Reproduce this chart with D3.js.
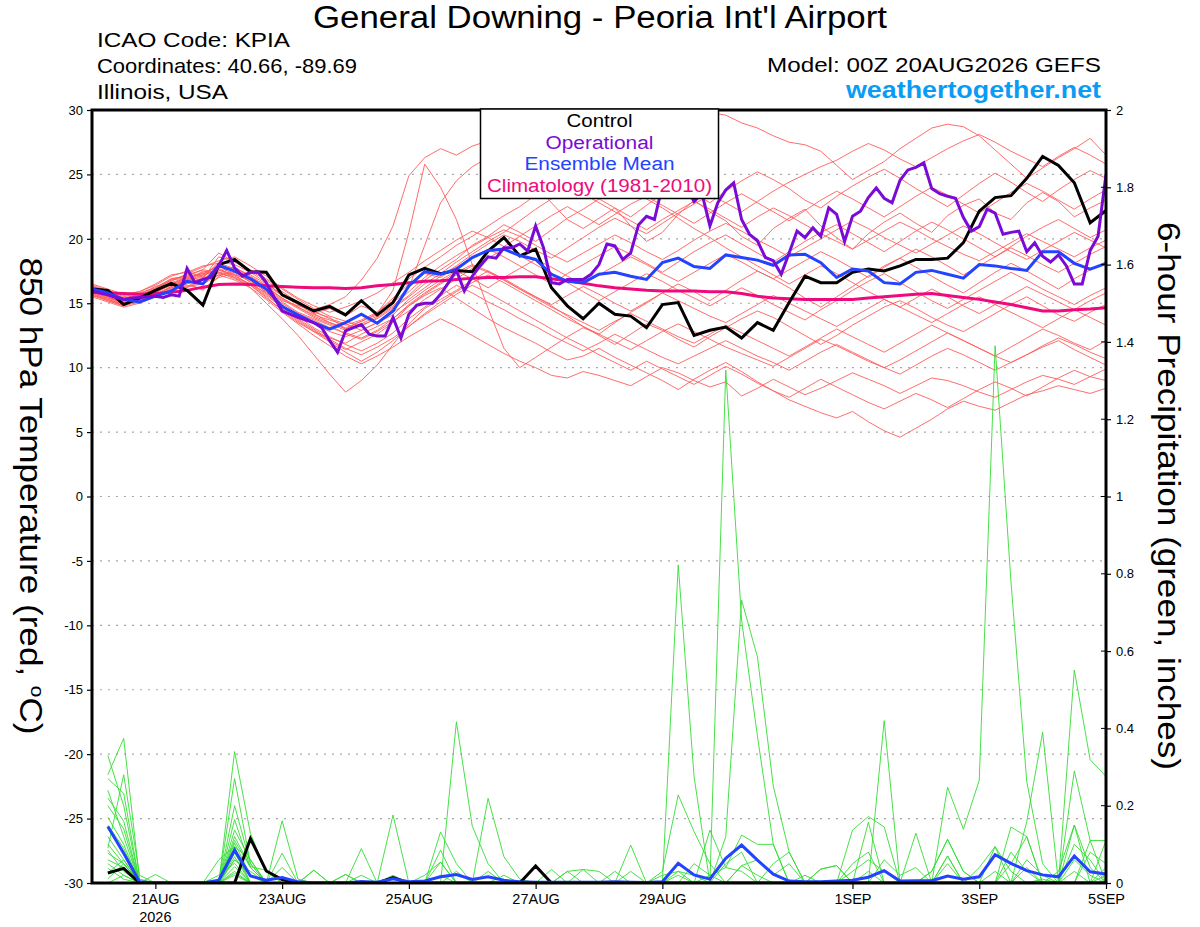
<!DOCTYPE html>
<html><head><meta charset="utf-8">
<script src="https://cdn.jsdelivr.net/npm/d3@7"></script>
<style>
body{margin:0;background:#fff}
svg{display:block}
text{font-family:"Liberation Sans",Arial,Helvetica,sans-serif}
</style>
</head><body>
<svg id="chart" width="1200" height="927"></svg>
<script>
// ---------------- DATA ----------------
const tempTicks = [-30,-25,-20,-15,-10,-5,0,5,10,15,20,25,30];
const precipTicks = [0,0.2,0.4,0.6,0.8,1,1.2,1.4,1.6,1.8,2];
const dateTickHours = [24,72,120,168,216,288,336,384];
const dateTickLabels = ["21AUG","23AUG","25AUG","27AUG","29AUG","1SEP","3SEP","5SEP"];
const yearLabel = "2026";
const legendLabels = ["Control","Operational","Ensemble Mean","Climatology (1981-2010)"];

// 850 hPa temperature, 6-hourly from 00Z 20AUG (65 values)
const controlTemp = [16.1,16.0,14.9,15.4,16.0,16.55,16.0,14.85,18.0,18.4,17.45,
 17.4,15.65,15.05,14.4,14.75,14.1,15.2,14.1,15.05,17.2,
 17.7,17.3,17.55,17.45,19.05,20.1,18.67,19.2,16.2,14.8,
 13.8,15.0,14.15,14.0,13.1,14.9,15.05,12.5,12.9,13.15,
 12.3,13.5,12.9,15.05,17.1,16.6,16.6,17.4,17.65,17.5,
 17.9,18.4,18.4,18.5,19.7,22.15,23.2,23.35,24.7,26.4,25.7,24.35,21.25,22.2];
const meanTemp = [16.1,15.8,15.3,15.1,15.55,15.95,16.7,16.5,17.95,17.5,16.9,
 16.1,14.75,14.1,13.5,13.0,13.5,14.15,13.45,14.4,16.35,
 17.45,17.25,17.65,18.55,19.1,19.2,18.7,18.4,17.25,16.7,
 16.6,17.25,17.4,17.1,16.85,18.15,18.5,17.85,17.7,18.75,
 18.55,18.35,17.95,18.75,18.8,18.15,17.0,17.65,17.5,16.6,
 16.5,17.4,17.55,17.25,16.95,18.0,17.9,17.7,17.55,19.0,19.0,18.1,17.65,18.1];
const climoTemp = [15.85,15.8,15.75,15.7,15.75,15.85,16.0,16.25,16.45,16.5,16.45,
 16.35,16.3,16.25,16.2,16.2,16.15,16.2,16.35,16.45,16.6,
 16.7,16.75,16.85,16.95,17.0,17.0,17.05,17.05,16.9,16.75,
 16.55,16.35,16.2,16.1,16.0,15.95,15.95,15.95,15.9,15.9,
 15.75,15.55,15.4,15.35,15.3,15.3,15.3,15.3,15.4,15.5,
 15.6,15.7,15.75,15.6,15.45,15.3,15.1,14.9,14.65,14.4,14.4,14.5,14.55,14.65];
// operational run, 3-hourly (129 values)
const operationalTemp = [15.96,15.8,15.65,15.45,15.3,15.4,15.45,15.5,15.55,15.45,15.65,15.55,
 17.7,16.6,16.85,17.0,17.9,19.1,17.75,17.1,17.4,17.4,16.6,15.45,
 14.4,14.15,13.9,13.7,13.5,13.1,12.1,11.2,12.85,13.1,13.35,12.6,
 12.45,12.45,13.9,12.3,14.15,14.85,15.0,15.0,15.7,16.6,17.55,15.95,
 17.1,17.9,18.6,18.5,19.3,19.3,19.6,19.05,21.0,19.3,16.6,16.5,
 16.85,16.85,16.85,17.25,18.0,19.6,19.45,18.4,18.9,21.1,21.75,21.5,
 24.1,25.3,25.5,24.0,22.9,23.5,21.0,22.8,23.8,24.35,21.5,20.35,
 19.85,18.55,18.3,17.25,18.9,20.6,20.1,20.85,20.2,22.4,21.9,19.8,
 21.75,22.15,23.2,23.95,23.15,22.8,24.55,25.35,25.55,25.9,23.9,23.5,
 23.3,23.15,21.65,20.6,20.95,22.3,22.0,20.35,20.5,20.6,19.0,19.7,
 18.65,18.2,18.75,17.9,16.5,16.5,19.1,20.2,25.0];
// ensemble members (65 values each)
const memberTemps = [
 [16.2,15.8,15.2,15.6,16.1,16.8,17.0,17.3,17.9,17.2,16.8, 16.0,15.2,14.8,14.5,14.9,15.5,16.8,18.5,21.0,24.9, 26.3,27.0,26.5,27.2,27.6,26.8,25.5,24.2,22.8,21.5, 20.8,21.6,22.4,21.0,19.8,20.5,21.9,23.0,22.1,21.4, 20.2,19.5,20.8,21.6,22.3,21.0,20.1,19.2,20.4,21.3, 22.0,21.2,20.5,21.8,22.6,23.1,22.0,21.5,22.8,23.6,22.9,21.7,22.4,23.0],
 [15.9,15.5,15.0,15.4,15.9,16.4,16.9,16.6,17.5,17.8,17.0, 16.4,15.6,14.9,14.2,14.6,14.0,14.8,14.3,15.2,16.9, 17.8,18.6,19.5,20.2,21.0,21.8,22.5,23.4,24.0,24.6, 25.3,26.1,25.5,24.8,25.9,27.0,28.1,29.1,29.8,29.6, 29.0,28.6,28.0,27.5,27.3,26.8,25.7,24.6,25.3,26.0, 27.0,27.8,28.6,28.9,28.7,28.0,26.9,25.8,24.7,25.5,26.3,27.0,27.8,26.5],
 [15.6,15.2,14.8,15.3,15.7,16.2,16.6,16.0,17.1,17.6,16.9, 15.8,14.6,13.7,12.9,12.1,11.4,12.0,12.6,13.5,14.8, 15.6,16.2,15.4,14.6,13.8,13.1,12.5,11.9,11.2,10.6, 10.9,11.5,10.8,10.2,9.6,9.0,8.3,9.1,9.8,10.4, 9.7,8.9,8.2,7.5,7.0,6.5,6.1,6.6,5.8,5.1, 4.6,5.3,6.0,6.8,7.4,7.0,6.7,7.3,7.9,8.2,8.6,8.3,8.0,8.4],
 [16.0,15.5,15.0,15.2,15.8,16.5,17.0,17.2,17.6,17.0,16.2, 15.0,13.8,12.5,11.0,9.5,8.1,9.0,10.2,11.8,13.4, 14.6,15.3,16.0,16.8,17.5,16.9,16.2,15.5,14.8,14.0, 13.2,12.5,11.8,12.6,13.4,12.9,12.2,11.6,12.4,13.1, 13.8,14.4,13.9,13.2,12.5,11.8,12.5,13.3,14.0,14.7, 15.2,14.6,13.9,13.3,12.8,13.5,14.2,14.9,15.5,14.8,14.1,13.6,14.3,14.9],
 [16.3,16.0,15.6,15.9,16.4,17.1,17.5,17.0,18.2,18.0,17.4, 16.6,15.6,15.0,14.3,13.9,13.0,13.6,14.2,16.0,20.5, 25.8,24.0,21.5,18.0,14.6,11.5,10.0,10.8,11.6,12.4, 13.1,12.6,13.5,14.3,15.0,15.8,16.5,15.9,15.2,16.0, 16.8,17.5,16.9,16.2,15.4,14.7,15.5,16.3,17.1,17.9, 18.5,17.8,17.1,16.4,15.8,16.6,17.4,18.1,17.5,16.8,16.1,16.9,17.6,18.2],
 [15.7,15.4,15.1,15.5,16.0,16.6,16.2,16.9,18.6,18.3,17.6, 16.9,16.1,15.3,14.6,14.0,13.6,13.2,13.9,14.7,15.6, 16.8,17.6,18.4,19.5,20.2,21.1,20.5,19.8,20.7,21.6, 22.3,23.1,22.4,21.7,22.6,23.5,24.2,23.6,22.8,23.7, 24.5,25.2,24.6,23.9,23.0,22.4,23.3,24.1,24.8,25.4, 24.7,23.9,23.2,22.5,23.4,24.3,25.1,24.4,23.6,22.9,23.8,24.6,25.3,24.7],
 [16.1,15.7,15.3,15.1,15.6,16.3,16.8,17.5,17.3,17.8,17.1, 16.3,15.4,14.7,14.1,13.7,13.3,13.7,14.3,15.4,16.5, 17.3,17.0,17.8,18.5,19.2,18.6,17.9,17.2,16.5,17.3, 18.0,18.7,19.4,18.8,18.1,17.4,18.2,19.0,19.7,20.3, 19.6,18.9,18.2,19.0,19.8,20.5,21.1,20.4,19.7,19.0, 19.8,20.6,21.3,20.7,20.0,19.3,18.6,19.4,20.2,20.9,21.5,20.8,20.1,20.7],
 [15.8,15.3,14.9,15.4,15.9,16.4,16.6,16.8,17.4,16.9,16.4, 15.5,14.4,13.5,12.8,12.3,11.9,12.6,13.2,13.8,14.9, 15.8,16.6,17.4,18.0,17.5,16.8,16.1,15.4,14.7,14.1, 13.5,12.9,13.6,14.2,13.6,13.0,12.4,11.9,12.6,13.3, 12.7,12.1,11.5,10.9,11.6,12.3,13.0,12.4,11.8,11.2, 11.9,12.6,13.3,12.7,12.1,11.5,10.9,11.6,12.3,13.0,12.5,11.9,11.4,12.1],
 [16.4,16.0,15.5,15.8,16.2,16.9,17.1,17.6,18.9,18.2,17.5, 16.8,15.9,15.1,14.4,13.8,13.4,12.9,13.5,14.1,15.3, 16.2,17.1,17.9,18.8,19.6,20.3,19.8,19.1,18.5,19.3, 20.1,20.9,21.6,21.0,20.4,21.2,22.0,22.7,23.4,22.8, 22.1,22.9,23.7,24.4,25.0,25.6,26.1,26.8,27.4,26.9, 26.2,25.6,26.3,27.0,27.6,28.1,27.5,26.8,26.2,25.6,26.4,27.1,26.5,25.8],
 [16.0,15.6,15.1,15.0,15.5,16.2,16.5,17.0,17.2,17.4,16.8, 16.0,15.1,14.3,13.8,13.3,12.6,12.2,12.8,13.6,14.4, 15.3,16.1,16.9,17.7,18.5,19.2,18.7,18.0,17.3,16.6, 15.9,15.2,15.9,16.6,17.3,16.7,16.0,15.4,14.8,15.5, 16.2,15.6,14.9,14.3,13.7,14.5,15.2,16.0,16.7,17.3, 16.6,15.9,15.2,14.6,15.3,16.0,16.7,17.4,16.8,16.1,15.5,14.9,15.6,16.2],
 [15.5,15.1,14.7,15.0,15.6,16.1,16.4,16.1,17.0,17.3,16.7, 15.9,14.9,14.0,13.1,12.4,11.8,11.3,11.9,12.7,13.8, 14.7,15.6,16.4,15.8,15.1,14.5,13.8,13.2,12.5,11.9, 11.3,11.9,12.6,12.0,11.4,10.8,10.3,10.9,11.5,12.1, 11.5,10.9,10.4,9.8,10.5,11.2,11.8,11.2,10.6,10.0, 9.5,10.2,10.9,11.5,11.0,10.4,9.8,10.4,11.0,11.6,12.1,11.4,10.8,10.2],
 [16.2,15.9,15.4,15.7,16.3,16.7,17.3,17.8,18.3,18.6,17.9, 17.1,16.2,15.4,14.8,14.3,14.7,15.2,15.8,16.6,17.4, 18.3,19.1,19.9,20.6,20.1,19.4,20.2,21.0,21.8,22.5, 21.8,21.1,21.9,22.7,23.3,22.6,21.9,21.2,22.0,22.8, 23.5,22.8,22.1,21.4,22.2,23.0,23.7,23.1,22.4,21.7, 22.5,23.3,24.0,23.4,22.7,22.0,22.8,23.6,24.3,23.7,23.0,22.3,23.1,23.8],
 [15.9,15.4,14.9,15.2,15.7,16.3,16.7,17.1,17.7,17.1,16.5, 15.6,14.7,13.8,13.0,12.2,11.5,11.0,11.6,12.3,13.2, 14.1,14.9,15.7,16.4,15.8,15.1,14.4,13.7,13.0,12.3, 11.7,11.0,10.4,9.8,10.5,9.9,9.3,8.7,9.4,10.1, 9.5,8.8,8.2,7.7,8.4,9.1,8.5,7.9,7.3,6.8, 7.4,8.0,7.5,6.9,7.6,8.3,8.9,8.4,7.8,8.5,9.2,9.8,9.3,9.0],
 [16.5,16.1,15.7,15.9,16.5,17.2,17.4,17.9,18.1,17.7,17.2, 16.5,15.7,14.9,14.2,13.5,13.0,13.4,14.0,14.8,15.9, 17.0,17.9,18.7,19.4,20.1,20.7,20.2,19.5,18.8,18.2, 18.9,19.6,20.3,19.7,19.0,18.4,19.1,19.9,20.6,21.2, 20.6,19.9,19.3,18.6,19.3,20.0,20.7,21.4,20.8,20.1, 19.5,18.9,19.6,20.3,21.0,20.4,19.7,19.0,18.4,19.1,19.8,20.5,19.9,19.3],
 [15.6,15.3,14.8,15.3,15.8,16.5,16.9,17.4,17.8,17.5,16.9, 16.1,15.3,14.6,13.9,13.4,12.9,13.3,13.8,14.6,15.5, 16.5,17.3,18.2,19.0,19.8,20.5,21.4,22.3,23.1,23.9, 24.6,25.2,24.5,23.8,23.1,22.4,21.6,20.8,20.1,19.3, 18.6,17.9,17.2,16.5,17.2,17.9,17.3,16.6,15.9,15.3, 14.7,15.4,16.1,15.5,14.8,14.2,14.9,15.6,16.3,15.7,15.1,14.5,15.2,15.8],
 [16.1,15.8,15.3,15.5,16.0,16.6,17.0,16.8,17.9,17.5,16.6, 15.7,14.8,14.0,13.4,12.8,12.4,12.9,13.5,14.3,15.1, 16.0,16.8,17.5,16.9,16.2,17.0,17.7,18.4,17.8,17.1, 16.5,17.2,17.9,18.6,18.0,17.3,16.7,17.4,18.1,18.8, 18.2,17.5,16.9,17.6,18.3,19.0,18.4,17.7,17.0,17.8, 18.5,19.2,18.6,17.9,17.2,17.9,18.6,19.3,18.7,18.0,17.4,18.1,18.8,19.4],
 [15.7,15.2,14.8,15.1,15.6,16.0,16.3,16.5,17.2,16.8,16.2, 15.3,14.3,13.4,12.5,11.7,10.9,10.3,10.9,11.6,12.4, 13.1,13.8,13.2,12.5,11.8,11.1,10.5,10.0,9.4,9.2, 9.7,9.4,9.0,8.6,9.3,10.0,9.6,9.0,8.5,8.9, 7.8,8.4,9.1,8.5,7.9,8.4,9.0,9.6,9.1,8.6, 8.0,8.6,9.2,9.0,8.6,8.1,7.7,8.3,8.9,9.4,9.1,8.7,9.3,9.9],
 [16.3,15.9,15.4,15.6,16.1,16.8,17.2,17.6,17.4,17.0,16.5, 15.8,15.0,14.2,13.7,13.1,12.7,12.3,12.9,13.8,14.8, 15.7,16.5,17.2,17.9,17.4,16.8,16.1,15.5,14.9,15.6, 16.3,15.7,15.0,14.4,15.1,15.8,15.2,14.6,14.0,13.5, 14.2,14.9,15.6,15.0,14.4,13.8,13.2,13.9,14.6,15.3, 14.7,14.1,13.5,14.2,14.9,15.5,14.9,14.3,13.7,13.1,13.8,14.5,13.9,13.3],
 [15.8,15.5,15.0,15.4,15.9,16.4,16.8,17.2,18.0,17.6,17.0, 16.2,15.4,14.7,14.0,13.5,13.1,13.6,14.1,15.0,16.2, 19.5,22.8,24.5,25.6,26.3,27.1,26.4,25.7,24.9,24.2, 23.5,22.8,22.1,21.4,20.7,21.5,22.2,22.9,22.3,21.6, 20.9,21.7,22.4,21.8,21.1,20.4,19.8,19.2,19.9,20.6, 21.3,20.7,20.0,19.4,18.8,18.3,19.0,19.7,20.4,19.8,19.2,18.6,19.3,19.9],
 [16.0,15.6,15.2,15.6,16.2,16.9,17.1,17.3,17.6,17.2,16.4, 15.4,14.5,13.6,12.8,12.0,11.2,10.5,11.2,12.1,13.2, 14.2,15.1,15.9,16.6,17.2,16.6,15.9,15.2,14.5,13.8, 13.2,12.6,12.0,11.4,12.1,12.8,13.4,12.8,12.2,11.6, 11.1,10.6,10.1,10.8,11.5,12.2,11.7,11.1,10.5,10.0, 10.6,11.3,12.0,12.7,12.1,11.5,10.9,10.4,11.0,11.7,12.3,11.8,11.2,10.7]
];

// 6-hour precipitation (inches), periods ending 06Z 20AUG ... 00Z 5SEP (64 values)
const controlPrecip = [.026,.038,0,0,0,0,0,0, 0,.115,.031,.009,0,0,0,0, 0,0,.014,0,0,0,0,0, 0,0,0,.044,0,0,0,0,
 0,0,0,0,0,0,0,0, 0,0,0,0,0,0,0,0, 0,0,0,0,0,0,0,0, 0,0,0,0,0,0,0,0];
const meanPrecip = [.146,.077,.003,0,0,0,0,.007, .085,.018,.007,.014,.003,0,0,0, .004,.002,.011,.003,.005,.016,.022,.009, .016,.007,.003,.002,.002,.002,.002,.002,
 .003,.002,.001,.003,.051,.021,.010,.064, .098,.059,.023,.005,.003,.003,.005,.007, .015,.032,.005,.006,.006,.018,.010,.016, .073,.051,.032,.021,.016,.070,.029,.023];
const memberPrecips = [
 [.33,.20,0,0,0,0,0,0, .27,.05,0,0,0,0,0,0, 0,0,0,0,0,0,.417,.147, .05,0,0,0,0,0,0,0, 0,0,0,0,0,0,0,1.327, .68,.38,.10,0,0,0,0,0, 0,0,0,0,0,0,0,0, 0,0,0,0,0,.551,.319,.276],
 [.28,.374,.01,0,0,0,0,0, .34,.128,.03,0,0,0,0,0, 0,0,0,0,0,0,0,0, .219,.068,.01,0,0,0,0,0, 0,0,0,0,.823,.275,0,0, 0,0,0,0,0,0,0,0, 0,0,0,0,0,.248,.139,.266, 1.39,.78,.262,.05,0,0,.11,.11],
 [.27,.232,0,0,0,0,0,0, .164,.04,0,.161,.01,0,0,0, 0,0,0,0,0,.132,.05,0, 0,0,0,0,0,0,0,0, 0,0,0,0,0,0,0,.12, .732,.585,.251,.08,0,0,0,0, 0,.42,0,0,0,0,0,0, 0,0,.159,.39,0,0,0,0],
 [.20,.14,0,0,0,0,0,0, .137,.06,0,.077,0,0,0,0, 0,0,.176,0,0,0,0,0, 0,0,0,0,0,0,0,0, 0,0,0,.03,.228,.133,.05,0, 0,0,0,0,0,0,0,.137, .172,.145,0,0,0,0,0,0, 0,0,0,0,0,.29,.11,0],
 [.17,.10,0,0,0,0,0,0, .12,.042,.033,0,0,0,0,0, .089,0,0,0,0,.085,0,0, 0,0,0,0,0,0,0,0, 0,.098,0,0,0,0,.137,.04, .124,.10,.10,0,0,0,0,0, .157,0,0,.129,0,0,0,0, 0,.145,.12,0,0,.15,0,.11],
 [.14,.08,0,0,0,0,0,0, .103,.02,0,.04,0,.033,0,0, 0,0,.02,0,0,.054,0,0, 0,0,0,0,.035,0,0,0, .03,0,0,0,0,0,0,0, .045,.06,.02,.05,0,0,0,0, 0,0,0,0,.03,.113,.03,0, .094,0,0,0,0,0,0,0],
 [.12,.06,0,0,0,0,0,0, .094,0,0,0,0,0,0,.022, 0,0,0,0,0,0,0,0, 0,0,0,0,0,.03,0,0, 0,0,0,0,0,0,0,0, 0,0,0,0,0,.036,.045,0, 0,0,0,0,0,.07,0,0, 0,0,0,0,0,0,0,0],
 [.10,.05,0,.022,0,0,0,0, .077,.02,0,0,0,0,0,0, 0,0,0,0,0,0,0,0, 0,0,0,0,0,0,.035,.03, 0,0,0,0,0,0,0,0, 0,0,0,0,0,0,0,0, 0,0,0,0,0,0,0,0, 0,0,0,0,0,0,0,0],
 [.085,.03,0,0,0,0,0,0, .068,0,0,0,0,.033,0,0, 0,0,0,0,0,0,0,0, 0,0,0,0,0,0,0,0, 0,0,0,0,0,0,0,0, 0,0,0,0,0,0,0,.03, .06,.03,0,0,0,0,0,0, 0,0,.06,.02,0,.10,.06,0],
 [.077,.05,0,0,0,0,0,0, .06,.02,0,0,0,0,0,.022, 0,0,0,0,0,0,0,0, 0,0,0,0,0,0,0,0, 0,0,0,0,0,.05,.02,0, 0,0,0,0,0,0,0,0, 0,0,0,0,0,.07,0,0, 0,.05,.12,0,0,0,0,.04],
 [.05,.02,0,0,0,0,0,.02, .051,0,0,0,0,0,0,0, 0,0,0,0,.02,.054,0,0, 0,0,0,0,0,.03,.035,0, 0,0,0,0,0,0,0,0, 0,0,.05,.08,0,0,0,0, 0,0,0,0,0,0,0,.04, .094,.03,0,0,0,0,0,0],
 [.038,.01,0,0,0,0,0,0, .042,0,0,0,0,0,0,0, 0,0,0,0,0,0,0,0, .03,0,0,0,0,0,0,0, 0,0,0,0,.02,0,0,0, .045,.02,0,0,0,0,0,0, 0,0,0,0,0,0,0,0, 0,0,0,0,.03,.15,.04,0],
 [.026,.06,0,0,0,0,0,.06, .094,.06,0,0,0,0,0,0, 0,0,0,0,0,0,0,0, 0,0,0,0,0,0,0,0, 0,.03,0,0,0,0,0,0, 0,0,0,0,0,0,0,0, 0,.06,.02,.04,0,0,0,0, 0,0,0,0,0,0,0,0],
 [.22,.16,0,0,0,0,0,0, .08,0,0,0,0,0,0,0, 0,0,0,0,0,0,.03,0, 0,0,0,0,0,0,0,0, 0,0,0,0,0,0,0,0, 0,0,0,0,0,.036,.045,0, 0,0,0,0,0,0,0,0, 0,0,0,0,0,0,.08,.05],
 [.15,.09,0,0,0,0,0,0, .11,.04,0,0,0,0,0,0, 0,0,0,0,0,0,0,0, 0,0,0,0,0,0,0,0, 0,0,0,0,0,0,.02,.04, .03,0,0,0,0,0,0,0, 0,0,0,0,.03,.113,.03,0, 0,0,0,0,0,0,0,0],
 [.06,.04,0,0,0,0,0,0, .03,0,0,0,0,0,0,0, .02,0,0,0,0,0,0,0, 0,.02,0,0,0,0,0,0, 0,0,0,0,0,0,0,0, 0,0,0,0,0,0,0,0, 0,0,0,0,0,0,0,0, 0,0,0,.01,0,.06,.02,0],
 [.09,.28,.02,0,0,0,0,0, .02,0,0,0,0,0,0,0, 0,0,0,0,0,0,0,0, 0,0,0,0,0,0,0,0, 0,0,0,0,0,0,0,.05, .08,0,0,0,0,0,0,0, .03,0,0,0,0,0,0,0, 0,0,0,0,0,0,0,0],
 [.011,.05,0,0,0,0,0,0, .06,.03,0,0,0,0,0,0, 0,0,0,0,0,.02,0,0, 0,0,0,0,0,0,0,0, 0,0,0,0,.03,.02,0,0, 0,0,0,0,0,0,0,.05, .08,0,0,0,0,0,0,0, 0,0,.04,0,0,0,0,0],
 [.24,.12,0,0,0,0,0,0, .20,.05,0,0,0,0,0,0, 0,0,0,0,0,0,0,0, 0,0,0,0,0,0,0,0, 0,0,0,0,0,0,0,0, 0,0,0,0,.02,0,0,0, 0,0,0,0,0,0,0,0, 0,.08,.03,0,0,0,0,.02],
 [0,.02,0,0,0,0,0,0, .025,0,0,0,0,0,0,0, 0,0,0,0,0,0,0,0, 0,0,0,0,0,0,0,0, 0,0,0,.02,.03,0,0,0, 0,0,0,0,0,0,0,0, 0,0,0,0,0,.05,0,0, .03,0,0,0,0,.03,0,0]
];

// ---------------- DRAW ----------------
const svg = d3.select("#chart");
const L = 92, R = 1106, T = 110, B = 883;
const x = d3.scaleLinear().domain([0, 384]).range([L, R]);
const yT = d3.scaleLinear().domain([-30, 30]).range([B, T]);
const yP = d3.scaleLinear().domain([0, 2]).range([B, T]);

svg.append("defs").append("clipPath").attr("id","plotclip")
  .append("rect").attr("x",L).attr("y",T).attr("width",R-L).attr("height",B-T);

// grid
svg.append("g").selectAll("line").data(tempTicks.filter(t=>t>-30&&t<30)).join("line")
  .attr("x1",L).attr("x2",R).attr("y1",d=>yT(d)).attr("y2",d=>yT(d))
  .attr("stroke","#a8a8a8").attr("stroke-width",1.2).attr("stroke-dasharray","2,6");

const plot = svg.append("g").attr("clip-path","url(#plotclip)");
const line6 = d3.line().x((d,i)=>x(i*6)).y(d=>yT(d));
const line3 = d3.line().x((d,i)=>x(i*3)).y(d=>yT(d));
const lineP = d3.line().x((d,i)=>x((i+1)*6)).y(d=>yP(d));

plot.append("g").selectAll("path").data(memberTemps).join("path")
  .attr("d",line6).attr("fill","none").attr("stroke","#ff5c5c").attr("stroke-width",0.9);
plot.append("g").selectAll("path").data(memberPrecips).join("path")
  .attr("d",lineP).attr("fill","none").attr("stroke","#33dd33").attr("stroke-width",0.9);

plot.append("path").datum(climoTemp).attr("d",line6).attr("fill","none")
  .attr("stroke","#ee0a7c").attr("stroke-width",3);
plot.append("path").datum(controlPrecip).attr("d",lineP).attr("fill","none")
  .attr("stroke","#000").attr("stroke-width",3);
plot.append("path").datum(controlTemp).attr("d",line6).attr("fill","none")
  .attr("stroke","#000").attr("stroke-width",3);
plot.append("path").datum(meanPrecip).attr("d",lineP).attr("fill","none")
  .attr("stroke","#2443ff").attr("stroke-width",3);
plot.append("path").datum(meanTemp).attr("d",line6).attr("fill","none")
  .attr("stroke","#2443ff").attr("stroke-width",3);
plot.append("path").datum(operationalTemp).attr("d",line3).attr("fill","none")
  .attr("stroke","#7a0ad6").attr("stroke-width",3);

// axes
const fontTick = '"Liberation Sans",Arial,sans-serif';
const ax = svg.append("g").attr("transform",`translate(${L},0)`)
  .call(d3.axisLeft(yT).tickValues(tempTicks).tickSize(5).tickPadding(4).tickFormat(d=>String(d)));
const ar = svg.append("g").attr("transform",`translate(${R},0)`)
  .call(d3.axisRight(yP).tickValues(precipTicks).tickSize(5).tickPadding(5).tickFormat(d=>String(+d.toFixed(1))));
const ab = svg.append("g").attr("transform",`translate(0,${B})`)
  .call(d3.axisBottom(x).tickValues(dateTickHours).tickSize(6).tickPadding(5).tickFormat((d,i)=>dateTickLabels[i]));
[ax,ar,ab].forEach(g=>{
  g.select(".domain").remove();
  g.selectAll(".tick line").attr("stroke","#000").attr("stroke-width",1.2);
  g.selectAll("text").attr("fill","#000").style("font-family",fontTick);
});
ax.selectAll("text").style("font-size","13px");
ar.selectAll("text").style("font-size","13px");
ab.selectAll("text").style("font-size","14.5px");
// inner ticks on right axis
svg.append("g").selectAll("line").data(precipTicks).join("line")
  .attr("x1",R-5).attr("x2",R).attr("y1",d=>yP(d)).attr("y2",d=>yP(d))
  .attr("stroke","#000").attr("stroke-width",1);
svg.append("text").attr("x",x(dateTickHours[0])).attr("y",922).attr("text-anchor","middle")
  .style("font-size","14.5px").text(yearLabel);

// frame
svg.append("rect").attr("x",L).attr("y",T).attr("width",R-L).attr("height",B-T)
  .attr("fill","none").attr("stroke","#000").attr("stroke-width",3);

// legend
const lg = svg.append("g");
lg.append("rect").attr("x",480.5).attr("y",109).attr("width",238).attr("height",89.5)
  .attr("fill","#fff").attr("stroke","#000").attr("stroke-width",1.5);
const legendColors = ["#000","#7a0ad6","#2443ff","#ee0a7c"];
const legendWidths = [66,108,150,225];
lg.selectAll("text").data(legendLabels).join("text")
  .attr("x",599.5).attr("y",(d,i)=>127+i*21.5).attr("text-anchor","middle")
  .attr("textLength",(d,i)=>legendWidths[i]).attr("lengthAdjust","spacingAndGlyphs")
  .attr("fill",(d,i)=>legendColors[i]).style("font-size","18px").text(d=>d);

// header
svg.append("text").attr("x",600).attr("y",28).attr("text-anchor","middle")
  .attr("textLength",574).attr("lengthAdjust","spacingAndGlyphs")
  .style("font-size","31px").text("General Downing - Peoria Int'l Airport");
const info = [["ICAO Code: KPIA",47,193],["Coordinates: 40.66, -89.69",73,260],["Illinois, USA",99,131]];
info.forEach(([t,y,w])=>svg.append("text").attr("x",97).attr("y",y)
  .attr("textLength",w).attr("lengthAdjust","spacingAndGlyphs").style("font-size","21px").text(t));
svg.append("text").attr("x",1101).attr("y",72).attr("text-anchor","end")
  .attr("textLength",334).attr("lengthAdjust","spacingAndGlyphs")
  .style("font-size","21px").text("Model: 00Z 20AUG2026 GEFS");
svg.append("text").attr("x",1101).attr("y",98).attr("text-anchor","end")
  .attr("textLength",255).attr("lengthAdjust","spacingAndGlyphs")
  .attr("fill","#0a9cf5").style("font-size","24px").style("font-weight","bold").text("weathertogether.net");

// axis titles
const lt = svg.append("text").attr("transform","translate(20,496) rotate(90)")
  .attr("text-anchor","middle").style("font-size","32px");
lt.append("tspan").text("850 hPa Temperature (red, ");
lt.append("tspan").attr("dy",-11).style("font-size","19px").text("o");
lt.append("tspan").attr("dy",11).text("C)");
lt.attr("textLength",477).attr("lengthAdjust","spacingAndGlyphs");
svg.append("text").attr("transform","translate(1158,496) rotate(90)")
  .attr("text-anchor","middle").style("font-size","32px")
  .attr("textLength",548).attr("lengthAdjust","spacingAndGlyphs")
  .text("6-hour Precipitation (green, inches)");
</script>
</body></html>
